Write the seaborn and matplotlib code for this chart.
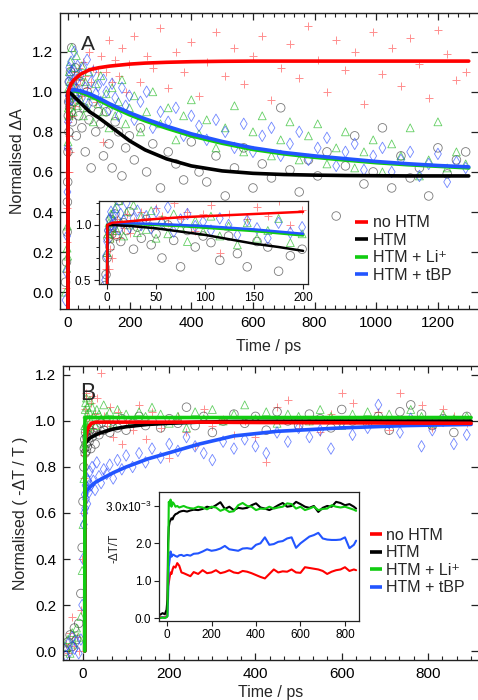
import numpy as np
import pandas as pd
import matplotlib
matplotlib.use("Agg")
import matplotlib.pyplot as plt
import seaborn as sns
from matplotlib.ticker import MultipleLocator, FixedLocator
from matplotlib.lines import Line2D

# ---------------- DATA ----------------
series_names = ["no HTM", "HTM", "HTM + Li\u207a", "HTM + tBP"]

# Panel A: transient absorption data (normalised dA)
tA = [-8, -5, -3, -2, -1,
      0, 1, 2, 3, 4, 5, 6,
      8, 10, 12, 14, 17, 20, 23, 27, 31, 35,
      40, 45, 50, 56, 62, 68, 75, 82, 90, 98,
      106, 115, 124, 133, 143, 153, 164, 175, 187, 199,
      215, 235, 255, 275, 300, 325, 350, 375, 400, 425,
      450, 480, 510, 540, 570, 600, 630, 660, 690, 720,
      750, 780, 810, 840, 870, 900, 930, 960, 990, 1020,
      1050, 1080, 1110, 1140, 1170, 1200, 1230, 1260, 1290]
A_red = [0.02, 0.10, 0.25, 0.42, 0.60,
         0.72, 0.85, 0.60, 0.78, 0.92, 0.70, 0.88,
         0.95, 1.05, 0.88, 1.02, 0.97, 1.10, 0.93, 1.04, 1.00, 1.12,
         1.06, 0.98, 1.15, 1.08, 1.02, 1.20, 1.05, 1.12, 0.95, 1.10,
         1.18, 0.75, 1.10, 1.26, 1.05, 1.16, 1.08, 1.22, 1.00, 1.14,
         1.28, 1.05, 1.18, 1.12, 1.32, 1.02, 1.20, 1.10, 1.25, 0.98,
         1.15, 1.30, 1.08, 1.22, 1.04, 1.18, 1.28, 0.96, 1.12, 1.24,
         1.07, 1.33, 1.16, 1.00, 1.26, 1.11, 1.20, 0.94, 1.30, 1.09,
         1.22, 1.03, 1.27, 1.14, 0.97, 1.31, 1.19, 1.06, 1.10]
A_black = [0.05, 0.15, 0.30, 0.45, 0.55,
           0.70, 0.88, 0.95, 0.80, 1.05, 0.92, 0.98,
           1.10, 0.90, 1.22, 0.85, 1.02, 0.95, 1.12, 0.78, 0.98, 0.88,
           1.05, 0.82, 0.92, 0.70, 1.00, 0.86, 0.62, 0.95, 0.80, 0.90,
           0.84, 0.68, 0.90, 0.74, 0.62, 0.85, 0.80, 0.58, 0.72, 0.78,
           0.66, 0.82, 0.60, 0.74, 0.52, 0.70, 0.64, 0.56, 0.75, 0.60,
           0.55, 0.68, 0.48, 0.62, 0.72, 0.52, 0.64, 0.57, 0.92, 0.61,
           0.50, 0.66, 0.58, 0.70, 0.38, 0.63, 0.78, 0.54, 0.60, 0.82,
           0.52, 0.68, 0.57, 0.62, 0.48, 0.72, 0.59, 0.66, 0.70]
A_green = [0.00, 0.12, 0.22, 0.33, 0.18,
           0.75, 0.92, 1.02, 0.88, 1.10, 0.97, 1.05,
           1.15, 0.95, 1.22, 1.03, 0.90, 1.12, 1.00, 1.18, 0.93, 1.08,
           0.96, 1.13, 0.88, 1.05, 0.92, 1.10, 0.98, 0.85, 1.04, 0.94,
           1.08, 0.90, 0.99, 0.82, 1.02, 0.88, 0.95, 1.06, 0.84, 0.92,
           0.98, 0.80, 0.90, 1.00, 0.84, 0.92, 0.76, 0.88, 0.96, 0.79,
           0.86, 0.72, 0.82, 0.93, 0.70, 0.80, 0.88, 0.68, 0.76, 0.85,
           0.66, 0.78, 0.84, 0.64, 0.72, 0.80, 0.62, 0.70, 0.76, 0.60,
           0.74, 0.68, 0.82, 0.58, 0.66, 0.85, 0.62, 0.70, 0.64]
A_blue = [-0.04, 0.10, 0.28, 0.50, 0.72,
          0.85, 0.95, 1.05, 0.98, 1.12, 1.00, 1.08,
          1.02, 1.15, 0.96, 1.10, 1.04, 1.20, 0.98, 1.06, 1.13, 1.00,
          1.08, 0.97, 1.12, 1.02, 1.16, 0.94, 1.05, 1.10, 0.99, 1.03,
          0.95, 1.06, 1.00, 0.91, 1.04, 0.97, 0.88, 1.02, 0.93, 0.98,
          0.86, 0.95, 1.00, 0.82, 0.90, 0.85, 0.92, 0.78, 0.88, 0.83,
          0.76, 0.86, 0.80, 0.72, 0.84, 0.70, 0.78, 0.82, 0.68, 0.74,
          0.80, 0.66, 0.72, 0.77, 0.63, 0.70, 0.74, 0.61, 0.68, 0.72,
          0.60, 0.66, 0.70, 0.58, 0.64, 0.69, 0.55, 0.65, 0.62]

# Panel A fits
tfitA = [0, 0.3, 10, 20, 40, 70, 100, 135, 200, 250, 320, 400, 500, 600,
         700, 800, 900, 1000, 1100, 1200, 1300]
fitA_red = [-0.1, 1.0, 1.04, 1.06, 1.087, 1.11, 1.12, 1.128, 1.138, 1.143, 1.147,
            1.15, 1.152, 1.153, 1.153, 1.153, 1.153, 1.153, 1.153, 1.153, 1.153]
fitA_black = [-0.1, 1.0, 0.99, 0.975, 0.945, 0.90, 0.87, 0.83, 0.755, 0.71, 0.665,
              0.63, 0.605, 0.593, 0.587, 0.584, 0.582, 0.581, 0.58, 0.58, 0.58]
fitA_green = [-0.1, 1.0, 1.005, 1.005, 0.998, 0.98, 0.958, 0.93, 0.885, 0.855, 0.818,
              0.78, 0.743, 0.712, 0.69, 0.673, 0.659, 0.646, 0.636, 0.628, 0.62]
fitA_blue = [-0.1, 1.0, 1.008, 1.01, 1.005, 0.99, 0.968, 0.94, 0.895, 0.865, 0.828,
             0.79, 0.752, 0.72, 0.697, 0.68, 0.666, 0.652, 0.641, 0.632, 0.625]

# Inset A fits (0-200 ps)
tfitIA = [0, 0.3, 5, 25, 50, 75, 100, 125, 150, 175, 200]
fitIA_red = [0.3, 1.0, 1.02, 1.035, 1.055, 1.07, 1.08, 1.09, 1.10, 1.11, 1.12]
fitIA_black = [0.3, 1.0, 1.0, 0.99, 0.97, 0.94, 0.91, 0.87, 0.83, 0.80, 0.765]
fitIA_green = [0.3, 1.0, 1.005, 1.01, 1.0, 0.99, 0.975, 0.96, 0.945, 0.925, 0.905]
fitIA_blue = [0.3, 1.0, 1.01, 1.015, 1.01, 1.0, 0.99, 0.975, 0.96, 0.94, 0.92]

# Panel B: normalised -dT/T data
tB = [-40, -35, -30, -25, -20, -15, -10, -5, -2, 0,
      2, 3, 4, 5, 6, 7, 8, 9, 10, 12,
      14, 16, 18, 21, 24, 28, 32, 37, 42, 48,
      55, 62, 70, 80, 90, 100, 115, 130, 145, 160,
      180, 200, 220, 240, 260, 280, 300, 325, 350, 375,
      400, 425, 450, 475, 500, 525, 550, 575, 600, 625,
      660, 685, 710, 735, 760, 785, 810, 835, 860, 890]
B_red = [0.03, -0.01, 0.08, 0.15, 0.02, 0.06, 0.00, 0.18, 0.40, 0.60,
         0.75, 0.85, 0.95, 1.05, 1.10, 0.92, 1.12, 0.98, 1.02, 0.96,
         1.00, 0.94, 1.08, 1.11, 0.97, 1.03, 1.10, 0.95, 1.21, 1.02,
         0.98, 1.06, 0.93, 1.04, 0.90, 1.00, 0.96, 1.07, 0.92, 1.04,
         0.97, 0.84, 1.02, 0.95, 0.89, 1.05, 0.98, 1.01, 0.94, 1.00,
         0.93, 0.82, 1.06, 1.09, 0.97, 1.00, 0.95, 1.03, 1.12, 1.08,
         0.99, 1.04, 0.96, 1.12, 1.01, 1.07, 0.97, 1.05, 1.02, 0.99]
B_black = [0.00, 0.04, 0.07, 0.02, 0.10, 0.05, 0.12, 0.25, 0.45, 0.65,
           0.80, 0.88, 0.92, 0.86, 0.95, 0.90, 0.87, 0.93, 0.89, 0.94,
           0.91, 0.96, 0.88, 0.93, 0.95, 0.90, 0.97, 0.94, 0.99, 0.96,
           0.98, 0.95, 1.00, 0.97, 1.01, 0.96, 0.99, 1.02, 0.98, 1.00,
           0.97, 1.01, 0.99, 1.06, 0.98, 1.02, 0.95, 1.00, 1.03, 0.99,
           1.02, 0.96, 1.04, 1.00, 0.98, 1.03, 1.01, 0.97, 1.05, 1.00,
           0.99, 1.02, 0.96, 1.04, 1.07, 1.03, 0.98, 1.01, 0.95, 1.02]
B_green = [0.02, 0.05, -0.01, 0.08, 0.03, 0.10, 0.06, 0.15, 0.35, 0.55,
           0.75, 0.90, 0.98, 1.05, 1.08, 0.99, 1.10, 1.03, 1.06, 0.97,
           1.04, 1.09, 1.00, 1.06, 1.02, 0.98, 1.05, 1.03, 1.01, 1.07,
           1.02, 1.04, 0.99, 1.05, 1.01, 1.03, 1.00, 1.04, 1.02, 1.06,
           1.03, 0.99, 1.02, 0.97, 1.04, 1.01, 1.05, 1.00, 1.03, 1.07,
           1.01, 1.04, 0.99, 1.03, 1.02, 1.00, 1.05, 1.02, 0.98, 1.03,
           1.04, 1.01, 1.03, 1.00, 1.05, 1.02, 0.99, 1.03, 1.01, 1.02]
B_blue = [-0.02, 0.03, 0.00, 0.06, 0.01, 0.04, -0.01, 0.05, 0.20, 0.40,
          0.55, 0.60, 0.68, 0.62, 0.72, 0.66, 0.75, 0.70, 0.64, 0.74,
          0.69, 0.78, 0.72, 0.80, 0.74, 0.70, 0.82, 0.76, 0.73, 0.79,
          0.77, 0.81, 0.75, 0.83, 0.79, 0.85, 0.80, 0.86, 0.82, 0.88,
          0.84, 0.90, 0.87, 0.93, 0.89, 0.86, 0.83, 0.91, 0.88, 0.92,
          0.89, 0.86, 0.95, 0.91, 0.97, 0.93, 0.96, 0.88, 0.99, 0.94,
          0.97, 1.07, 0.99, 0.95, 1.01, 0.89, 0.96, 1.00, 0.90, 0.94]

# Panel B fits
tfitB = [4, 4.5, 6, 10, 15, 20, 30, 40, 70, 100, 150, 200, 270, 350, 450, 600, 750, 900]
fitB_red = [0, 0.90, 0.93, 0.96, 0.98, 0.99, 0.995, 0.995, 0.995, 0.995, 0.995,
            0.995, 0.995, 0.994, 0.993, 0.992, 0.991, 0.99]
fitB_black = [0, 0.90, 0.905, 0.915, 0.925, 0.93, 0.94, 0.948, 0.965, 0.975, 0.985,
              0.99, 0.995, 0.998, 0.999, 1.0, 1.0, 1.0]
fitB_green = [0, 1.015, 1.015, 1.015, 1.015, 1.015, 1.015, 1.015, 1.015, 1.015, 1.015,
              1.015, 1.015, 1.015, 1.015, 1.015, 1.015, 1.015]
fitB_blue = [0, 0.64, 0.68, 0.70, 0.71, 0.72, 0.735, 0.745, 0.775, 0.80, 0.835,
             0.862, 0.90, 0.935, 0.955, 0.97, 0.98, 0.985]

# Inset B: raw -dT/T kinetics (units of 1e-3)
tIB = [-30, -20, -10, -2,
       2, 5, 8, 12, 16, 20, 25, 30, 38, 46,
       55, 65, 75, 90, 105, 120, 140, 160, 180, 200,
       220, 240, 260, 280, 300, 320, 340, 360, 380, 400,
       420, 440, 460, 480, 500, 520, 540, 560, 580, 600,
       620, 640, 660, 680, 700, 720, 740, 760, 780, 800,
       820, 840, 850]
IB_red = [0.02, 0.02, 0.02, 0.03,
          0.30, 0.85, 0.95, 1.10, 1.22, 1.18, 1.30, 1.38, 1.35, 1.47,
          1.40, 1.22, 1.20, 1.16, 1.12, 1.23, 1.18, 1.28, 1.20, 1.22,
          1.28, 1.20, 1.23, 1.28, 1.22, 1.20, 1.26, 1.24, 1.20, 1.15,
          1.10, 1.06, 1.18, 1.30, 1.22, 1.25, 1.24, 1.30, 1.22, 1.21,
          1.36, 1.34, 1.32, 1.30, 1.26, 1.18, 1.24, 1.28, 1.30, 1.36,
          1.26, 1.30, 1.28]
IB_black = [0.09, 0.13, 0.10, 0.22,
            0.50, 2.00, 2.44, 2.58, 2.62, 2.67, 2.64, 2.72, 2.78, 2.80,
            2.84, 2.86, 2.87, 2.85, 2.88, 2.90, 2.89, 2.92, 2.98, 2.95,
            3.02, 3.10, 2.92, 2.98, 2.89, 2.95, 2.93, 2.95, 3.02, 3.07,
            2.96, 2.93, 2.89, 2.95, 3.02, 3.08, 2.98, 3.00, 3.11, 3.05,
            2.98, 2.95, 3.00, 2.84, 2.95, 3.00, 2.98, 3.11, 3.08, 3.02,
            3.05, 2.98, 2.93]
IB_green = [0.00, 0.01, 0.00, 0.02,
            0.05, 1.50, 3.11, 3.02, 3.17, 2.98, 3.10, 3.07, 2.98, 3.00,
            2.96, 2.98, 3.00, 2.96, 2.94, 2.93, 2.98, 2.96, 2.91, 2.98,
            2.96, 2.87, 2.92, 2.84, 2.86, 3.02, 3.08, 3.00, 2.98, 2.89,
            2.93, 2.92, 2.98, 2.93, 2.96, 2.98, 3.07, 3.05, 2.93, 2.98,
            2.89, 2.93, 2.98, 2.89, 2.92, 2.93, 3.02, 2.98, 2.96, 2.98,
            2.94, 2.90, 2.87]
IB_blue = [0.00, 0.02, 0.00, 0.03,
           0.05, 0.60, 1.38, 1.56, 1.78, 1.64, 1.70, 1.69, 1.66, 1.64,
           1.68, 1.69, 1.66, 1.69, 1.67, 1.72, 1.73, 1.78, 1.84, 1.80,
           1.82, 1.86, 1.93, 1.84, 1.82, 1.80, 1.86, 1.87, 1.85, 1.96,
           2.00, 2.16, 1.96, 1.98, 2.04, 2.06, 2.13, 2.16, 1.88, 2.00,
           2.09, 2.18, 2.22, 2.28, 2.13, 2.10, 2.09, 2.09, 2.10, 2.16,
           1.87, 1.96, 2.07]

# ---------------- STYLE ----------------
sns.set_theme(style="white")
plt.rcParams["font.family"] = ["Liberation Sans", "DejaVu Sans"]
plt.rcParams["mathtext.fontset"] = "custom"
plt.rcParams["mathtext.rm"] = "Liberation Sans"
plt.rcParams["mathtext.default"] = "regular"
plt.rcParams["axes.unicode_minus"] = False

line_colors = ["#ff0000", "#000000", "#11cc11", "#2255ff"]
scatter_styles = [
    dict(marker="+", s=34, color="#ff4444", linewidth=0.7, alpha=0.6),
    dict(marker="o", s=38, fc="none", ec="#333333", linewidth=0.6, alpha=0.65),
    dict(marker="^", s=32, fc="none", ec="#22bb22", linewidth=0.6, alpha=0.7),
    dict(marker="d", s=34, fc="none", ec="#2244ff", linewidth=0.6, alpha=0.65),
]

W, H = 478, 700
fig = plt.figure(figsize=(W / 100, H / 100), dpi=100)


def fig_rect(l, t, r, b):
    return [l / W, 1 - b / H, (r - l) / W, (b - t) / H]


def style_main(ax, xmajor, xminor):
    for sp in ax.spines.values():
        sp.set_color("#222222")
        sp.set_linewidth(1.0)
    ax.spines["right"].set_visible(False)
    ax.xaxis.set_major_locator(MultipleLocator(xmajor))
    ax.xaxis.set_minor_locator(MultipleLocator(xminor))
    ax.yaxis.set_major_locator(MultipleLocator(0.2))
    ax.tick_params(which="both", direction="in", top=True, right=True,
                   bottom=True, left=True, colors="#222222", labelsize=11,
                   labelcolor="black")
    ax.tick_params(which="major", length=5, width=0.9, pad=5)
    ax.tick_params(which="minor", length=3, width=0.8)
    ax.grid(False)


def style_inset(ax, fs=8.5):
    for sp in ax.spines.values():
        sp.set_color("#222222")
        sp.set_linewidth(0.9)
    ax.tick_params(which="both", direction="out", top=False, right=False,
                   bottom=True, left=True, colors="#222222", labelsize=fs,
                   labelcolor="black", pad=2)
    ax.tick_params(which="major", length=3.5, width=0.8)
    ax.tick_params(which="minor", length=2, width=0.7)
    ax.set_facecolor("white")
    ax.grid(False)


def draw_scatter(ax, t, ys):
    for y, st in zip(ys, scatter_styles):
        df = pd.DataFrame({"t": t, "v": y})
        sns.scatterplot(data=df, x="t", y="v", ax=ax, legend=False, zorder=2, **st)


def draw_fits(ax, t, ys, order, lw=2.6):
    for i in order:
        df = pd.DataFrame({"t": t, "v": ys[i]})
        sns.lineplot(data=df, x="t", y="v", ax=ax, color=line_colors[i],
                     linewidth=lw, sort=False, estimator=None, zorder=4)


# ---------------- PANEL A ----------------
axA = fig.add_axes(fig_rect(60, 13, 478, 309))
draw_scatter(axA, tA, [A_red, A_black, A_green, A_blue])
draw_fits(axA, tfitA, [fitA_red, fitA_black, fitA_green, fitA_blue], [2, 3, 1, 0])
axA.set_xlim(-26, 1330)
axA.set_ylim(-0.084, 1.393)
style_main(axA, 200, 200 / 6)
axA.set_xlabel("Time / ps", fontsize=11.5)
axA.set_ylabel("Normalised \u0394A", fontsize=11.5)
axA.xaxis.set_label_coords(0.5, -0.1)
axA.yaxis.set_label_coords(-0.083, 0.5)
axA.text(88 / W, 1 - 45 / H, "A", transform=fig.transFigure, fontsize=15,
         ha="center", va="center")

handles = [Line2D([], [], color=c, lw=2.6, solid_capstyle="butt") for c in line_colors]
legA = axA.legend(handles, series_names, loc="center left",
                  bbox_to_anchor=(355 / W, 1 - 249 / H), bbox_transform=fig.transFigure,
                  frameon=False, fontsize=11.5, handlelength=0.8, handletextpad=0.3,
                  labelspacing=0.15, borderpad=0, borderaxespad=0)

# Inset A
axIA = fig.add_axes(fig_rect(99, 201, 308, 284))
draw_scatter(axIA, tA, [A_red, A_black, A_green, A_blue])
draw_fits(axIA, tfitIA, [fitIA_red, fitIA_black, fitIA_green, fitIA_blue],
          [2, 3, 1, 0], lw=1.8)
axIA.set_xlim(-8.2, 205)
axIA.set_ylim(0.464, 1.218)
axIA.xaxis.set_major_locator(MultipleLocator(50))
axIA.yaxis.set_major_locator(FixedLocator([0.5, 1.0]))
axIA.yaxis.set_minor_locator(MultipleLocator(0.1))
style_inset(axIA)
axIA.set_xlabel("")
axIA.set_ylabel("")

# ---------------- PANEL B ----------------
axB = fig.add_axes(fig_rect(63, 366, 478, 660))
draw_scatter(axB, tB, [B_red, B_black, B_green, B_blue])
draw_fits(axB, tfitB, [fitB_red, fitB_black, fitB_green, fitB_blue], [3, 1, 0, 2])
axB.set_xlim(-46.4, 916)
axB.set_ylim(-0.039, 1.239)
style_main(axB, 200, 200 / 6)
axB.set_xlabel("Time / ps", fontsize=11.5)
axB.set_ylabel("Normalised ( -\u0394T / T )", fontsize=11.5)
axB.xaxis.set_label_coords(0.5, -0.085)
axB.yaxis.set_label_coords(-0.084, 0.5)
axB.text(88 / W, 1 - 394 / H, "B", transform=fig.transFigure, fontsize=16.5,
         ha="center", va="center")
legB = axB.legend(handles, series_names, loc="center left",
                  bbox_to_anchor=(370 / W, 1 - 561.5 / H), bbox_transform=fig.transFigure,
                  frameon=False, fontsize=11.5, handlelength=0.75, handletextpad=0.25,
                  labelspacing=0.15, borderpad=0, borderaxespad=0)

# Inset B
axIB = fig.add_axes(fig_rect(159, 492, 359, 621))
for i in [0, 3, 1, 2]:
    y = [IB_red, IB_black, IB_green, IB_blue][i]
    df = pd.DataFrame({"t": tIB, "v": y})
    sns.lineplot(data=df, x="t", y="v", ax=axIB, color=line_colors[i], linewidth=1.5,
                 sort=False, estimator=None)
axIB.set_xlim(-36, 863)
axIB.set_ylim(-0.08, 3.374)
axIB.xaxis.set_major_locator(MultipleLocator(200))
axIB.yaxis.set_major_locator(FixedLocator([0, 1, 2, 3]))
axIB.set_yticklabels(["0.0", "1.0", "2.0", "3.0x10$^{-3}$"])
style_inset(axIB, fs=8.5)
axIB.set_xlabel("")
axIB.set_ylabel("-\u0394T/T", fontsize=8.5)
axIB.yaxis.set_label_coords(-0.19, 0.56)

fig.savefig("out.png", dpi=100)
